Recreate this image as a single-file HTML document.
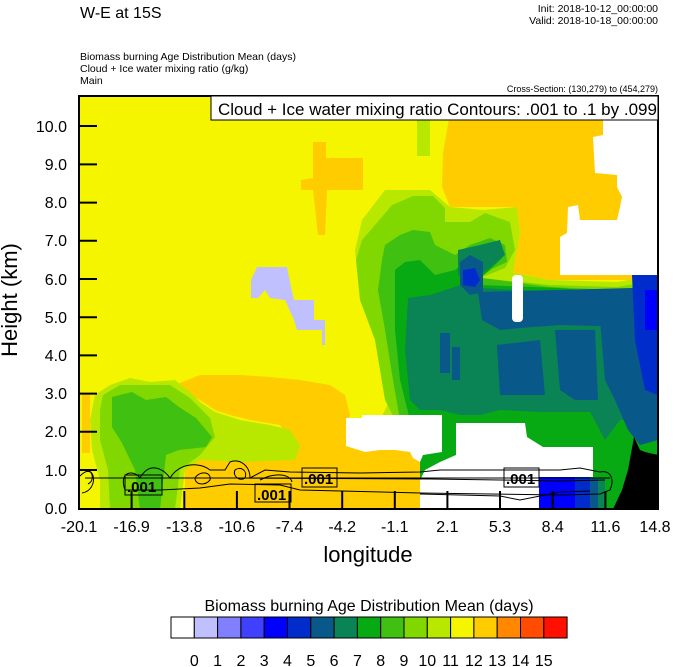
<!DOCTYPE html>
<html><head><meta charset="utf-8"><style>
html,body{margin:0;padding:0;background:#fff;}
svg{display:block;font-family:"Liberation Sans",sans-serif;}
</style></head><body>
<svg width="674" height="667" viewBox="0 0 674 667" xmlns="http://www.w3.org/2000/svg">
<text x="80" y="18" font-size="16">W-E at 15S</text>
<text x="658" y="12" font-size="10.5" text-anchor="end">Init: 2018-10-12_00:00:00</text>
<text x="658" y="24" font-size="10.5" text-anchor="end">Valid: 2018-10-18_00:00:00</text>
<text x="80" y="60" font-size="10.5">Biomass burning Age Distribution Mean   (days)</text>
<text x="80" y="72" font-size="10.5">Cloud + Ice water mixing ratio   (g/kg)</text>
<text x="80" y="84" font-size="10.5">Main</text>
<text x="658" y="92" font-size="9" text-anchor="end">Cross-Section: (130,279) to (454,279)</text>

<clipPath id="c"><rect x="79" y="96" width="579" height="413"/></clipPath>
<g clip-path="url(#c)">
<rect x="79" y="96" width="579" height="413" fill="#f5f500"/>
<polygon fill="#ffcc00" points="453,96 658,96 658,280 550,280 513,273 520,233 517,207 450,207 442,187 443,153"/>
<rect x="417" y="96" width="13" height="60" fill="#b8e800"/>
<polygon fill="#ffcc00" points="313,142 326,142 326,158 363,158 363,190 327,190 325,235 318,235 313,190 301,190 301,180 313,178"/>
<rect x="251" y="96" width="8" height="14" fill="#ffcc00"/>
<polygon fill="#fff" points="603,96 658,96 658,275 560,275 560,237 567,233 568,207 578,205 580,220 617,220 620,207 622,197 617,187 617,175 595,173 593,137 603,135"/>
<polygon fill="#c0c0ff" points="251,298 251,280 257,267 287,267 291,287 294,300 314,300 314,320 325,320 325,345 322,345 322,330 297,330 294,320 285,300 270,298 265,290 258,298"/>
<polygon fill="#b8e800" points="385,190 430,190 450,207 483,210 517,207 520,233 513,273 550,280 617,282 658,275 658,509 395,509 380,420 390,400 382,380 375,330 360,300 355,250 362,220"/>
<polygon fill="#80d800" points="392,205 413,196 433,196 445,208 445,222 470,222 485,213 510,222 515,250 505,268 480,278 550,285 617,287 658,280 658,509 405,509 395,420 385,400 375,340 360,300 356,260 362,240 375,225"/>
<polygon fill="#40c010" points="385,245 400,235 413,230 430,232 435,245 455,255 470,245 490,238 505,245 507,262 485,272 475,277 550,287 617,290 658,285 658,509 410,509 400,420 393,380 385,330 378,290 382,260"/>
<polygon fill="#08aa14" points="395,270 405,262 420,260 425,265 435,275 455,270 475,255 495,248 502,258 490,270 480,278 480,285 560,288 600,292 658,290 658,509 420,509 410,420 400,380 395,330"/>
<polygon fill="#0a8454" points="408,298 430,295 470,282 480,288 560,292 658,290 658,420 620,420 605,440 590,412 540,412 500,410 480,415 460,415 440,410 420,410 410,400 405,350"/>
<polygon fill="#0a8454" points="458,250 480,245 500,240 505,255 490,268 470,280 458,275"/>
<polygon fill="#08588a" points="478,292 632,288 645,278 658,278 658,330 600,326 560,325 520,328 500,330 482,320"/>
<polygon fill="#08588a" points="600,320 658,320 658,440 640,445 628,430 615,400 605,380"/>
<polygon fill="#08588a" points="497,345 540,340 545,395 500,395"/>
<polygon fill="#08588a" points="555,330 595,330 598,400 575,400 560,390"/>
<polygon fill="#08588a" points="460,262 470,255 483,262 483,292 470,295 460,285"/>
<rect x="440" y="333" width="10" height="40" fill="#08588a"/>
<rect x="452" y="347" width="8" height="33" fill="#08588a"/>
<polygon fill="#002ccc" points="632,275 658,275 658,395 645,390 635,340"/>
<polygon fill="#002ccc" points="463,270 475,268 480,280 475,287 463,285"/>
<rect x="645" y="290" width="13" height="40" fill="#0000ff"/>
<rect x="512" y="275" width="11" height="47" rx="4" fill="#fff"/>
<polygon fill="#ffcc00" points="175,385 200,375 240,375 270,377 300,380 330,385 345,395 350,415 346,425 346,440 380,447 385,460 420,470 420,509 185,509 185,470 205,450 230,445 285,445 290,440 280,425 250,420 230,415 215,410 200,400 190,395"/>
<polygon fill="#ffcc00" points="380,450 420,450 420,509 380,509"/>
<rect x="82" y="393" width="8" height="60" fill="#ffcc00"/>
<polygon fill="#b8e800" points="95,395 110,385 130,378 150,382 175,380 190,392 200,402 215,412 240,420 270,425 290,430 300,445 295,460 240,462 200,460 185,470 180,509 100,509 100,480 92,450 90,420"/>
<polygon fill="#80d800" points="103,395 120,385 145,385 170,385 190,398 210,418 215,437 200,455 180,470 175,509 110,509 108,470 100,440 100,410"/>
<polygon fill="#40c010" points="112,397 132,392 146,400 166,397 179,407 196,418 212,437 206,447 179,450 166,455 160,509 140,509 135,470 122,443 112,427"/>
<polygon fill="#fff" points="346,418 362,418 362,415 442,415 442,452 423,455 420,462 413,458 410,452 395,450 380,450 365,452 346,446"/>
<polygon fill="#fff" points="456,423 525,423 527,437 543,447 593,447 593,477 539,477 539,509 420,509 420,480 425,470 440,462 456,455"/>
<rect x="539" y="477" width="36" height="32" fill="#0000ff"/>
<rect x="575" y="477" width="15" height="32" fill="#002ccc"/>
<rect x="590" y="478" width="8" height="31" fill="#08588a"/>
<rect x="598" y="478" width="7" height="31" fill="#0a8454"/>
<polygon fill="#000" points="613,509 622,490 628,470 634,437 640,450 645,452 658,455 658,509"/>
<g fill="none" stroke="#000" stroke-width="1">
<path d="M80,476 C95,460 100,490 82,493"/>
<path d="M84,470 C92,468 96,480 88,484"/>
<path d="M125,490 C118,470 135,470 140,478 C150,460 165,470 170,478 C180,462 200,462 210,470 L225,470 L230,462 C240,458 250,466 250,478 L265,470 L290,472 L360,473 L420,472 L440,470 L560,470 L580,468 L600,472 C610,470 615,478 610,490 L600,494 L560,495 L420,493 L300,490 L280,485 L230,484 L200,488 L160,490 Z"/>
<path d="M85,478 L610,478"/>
<path d="M240,478 L430,479 L500,480 L560,481 L605,480"/>
<path d="M420,494 L500,496 L520,500 L540,496 L560,492 L590,491"/>
<path d="M235,470 C240,466 248,470 245,478 C240,482 232,476 235,470"/>
<path d="M195,478 C200,470 212,472 210,480 C205,486 195,485 195,478"/>
<path d="M260,480 C275,472 290,474 292,482"/>
</g>
</g>
<g font-size="15" font-weight="bold">
<rect x="125" y="475" width="37" height="20" fill="none" stroke="#000"/><text x="127" y="492">.001</text>
<rect x="255" y="484" width="36" height="18" fill="none" stroke="#000"/><text x="257" y="500">.001</text>
<rect x="302" y="468" width="35" height="19" fill="none" stroke="#000"/><text x="304" y="484">.001</text>
<rect x="504" y="468" width="35" height="19" fill="none" stroke="#000"/><text x="506" y="484">.001</text>
</g>
<rect x="79" y="96" width="579" height="413" fill="none" stroke="#000" stroke-width="2"/>
<rect x="211" y="96" width="447" height="24" fill="#fff" stroke="#000" stroke-width="1"/>
<text x="218" y="115" font-size="17">Cloud + Ice water mixing ratio Contours: .001 to .1 by .099</text>
<g stroke="#000" stroke-width="2">
<line x1="79" y1="126" x2="97" y2="126"/><line x1="79" y1="164.4" x2="97" y2="164.4"/>
<line x1="79" y1="202.6" x2="97" y2="202.6"/><line x1="79" y1="240.8" x2="97" y2="240.8"/>
<line x1="79" y1="279" x2="97" y2="279"/><line x1="79" y1="317.2" x2="97" y2="317.2"/>
<line x1="79" y1="355.4" x2="97" y2="355.4"/><line x1="79" y1="393.6" x2="97" y2="393.6"/>
<line x1="79" y1="431.8" x2="97" y2="431.8"/><line x1="79" y1="470" x2="97" y2="470"/>
<line x1="131.6" y1="509" x2="131.6" y2="491"/><line x1="184.3" y1="509" x2="184.3" y2="491"/>
<line x1="236.9" y1="509" x2="236.9" y2="491"/><line x1="289.5" y1="509" x2="289.5" y2="491"/>
<line x1="342.2" y1="509" x2="342.2" y2="491"/><line x1="394.8" y1="509" x2="394.8" y2="491"/>
<line x1="447.4" y1="509" x2="447.4" y2="491"/><line x1="500" y1="509" x2="500" y2="491"/>
<line x1="552.7" y1="509" x2="552.7" y2="491"/><line x1="605.4" y1="509" x2="605.4" y2="491"/>
</g>
<g font-size="16" text-anchor="end">
<text x="67" y="132">10.0</text><text x="67" y="170">9.0</text><text x="67" y="208">8.0</text>
<text x="67" y="246">7.0</text><text x="67" y="285">6.0</text><text x="67" y="323">5.0</text>
<text x="67" y="361">4.0</text><text x="67" y="399">3.0</text><text x="67" y="437">2.0</text>
<text x="67" y="476">1.0</text><text x="67" y="514">0.0</text>
</g>
<g font-size="16" text-anchor="middle">
<text x="79" y="532">-20.1</text><text x="131.6" y="532">-16.9</text><text x="184.3" y="532">-13.8</text>
<text x="236.9" y="532">-10.6</text><text x="289.5" y="532">-7.4</text><text x="342.2" y="532">-4.2</text>
<text x="394.8" y="532">-1.1</text><text x="447.4" y="532">2.1</text><text x="500" y="532">5.3</text>
<text x="552.7" y="532">8.4</text><text x="605.4" y="532">11.6</text><text x="655" y="532">14.8</text>
</g>
<text x="368" y="562" font-size="22" text-anchor="middle">longitude</text>
<text transform="translate(17,300) rotate(-90)" font-size="22" text-anchor="middle">Height (km)</text>
<text x="369" y="611" font-size="16" text-anchor="middle">Biomass burning Age Distribution Mean  (days)</text>
<g stroke="#000" stroke-width="1">
<rect x="171" y="617" width="23.3" height="21" fill="#fff"/>
<rect x="194.3" y="617" width="23.3" height="21" fill="#c0c0ff"/>
<rect x="217.6" y="617" width="23.3" height="21" fill="#8080ff"/>
<rect x="240.9" y="617" width="23.3" height="21" fill="#4040ff"/>
<rect x="264.2" y="617" width="23.3" height="21" fill="#0000ff"/>
<rect x="287.5" y="617" width="23.3" height="21" fill="#002ccc"/>
<rect x="310.8" y="617" width="23.3" height="21" fill="#08588a"/>
<rect x="334.1" y="617" width="23.3" height="21" fill="#0a8454"/>
<rect x="357.4" y="617" width="23.3" height="21" fill="#08aa14"/>
<rect x="380.7" y="617" width="23.3" height="21" fill="#40c010"/>
<rect x="404" y="617" width="23.3" height="21" fill="#80d800"/>
<rect x="427.3" y="617" width="23.3" height="21" fill="#b8e800"/>
<rect x="450.6" y="617" width="23.3" height="21" fill="#f5f500"/>
<rect x="473.9" y="617" width="23.3" height="21" fill="#ffcc00"/>
<rect x="497.2" y="617" width="23.3" height="21" fill="#ff8800"/>
<rect x="520.5" y="617" width="23.3" height="21" fill="#ff4c00"/>
<rect x="543.8" y="617" width="23.3" height="21" fill="#ff1000"/>
</g>
<g font-size="16" text-anchor="middle">
<text x="194.3" y="666">0</text><text x="217.6" y="666">1</text><text x="240.9" y="666">2</text>
<text x="264.2" y="666">3</text><text x="287.5" y="666">4</text><text x="310.8" y="666">5</text>
<text x="334.1" y="666">6</text><text x="357.4" y="666">7</text><text x="380.7" y="666">8</text>
<text x="404" y="666">9</text><text x="427.3" y="666">10</text><text x="450.6" y="666">11</text>
<text x="473.9" y="666">12</text><text x="497.2" y="666">13</text><text x="520.5" y="666">14</text>
<text x="543.8" y="666">15</text>
</g>
</svg>
</body></html>
